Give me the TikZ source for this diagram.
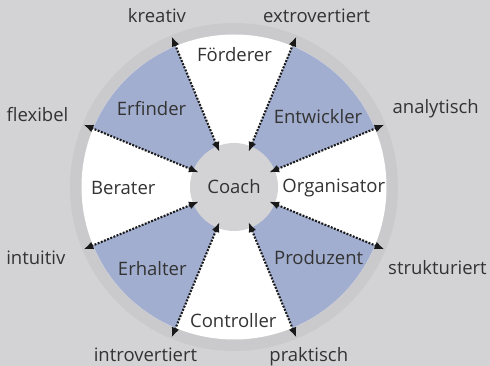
\documentclass[tikz,border=0pt]{standalone}
\usepackage{fontspec}
\setmainfont{Open Sans}
\usetikzlibrary{arrows.meta}
\definecolor{bg}{HTML}{D3D3D5}
\definecolor{ringc}{HTML}{CACACC}
\definecolor{sect}{HTML}{A2AED0}
\definecolor{txt}{HTML}{333333}
\begin{document}
\begin{tikzpicture}[x=1pt,y=1pt,
  lbl/.style={font=\fontsize{18.5}{22}\selectfont, text=txt, anchor=base, inner sep=0pt},
  arr/.style={line width=2.1pt, dash pattern=on 1.9pt off 1.5pt, color=black!90,
    {Latex[length=10pt,width=8pt]}-{Latex[length=10pt,width=8pt]}},
  bluesec/.style={fill=sect}]
\fill[bg] (-234,-179) rectangle (256,187);
\useasboundingbox (-234,-179) rectangle (256,187);
\fill[ringc] (0,0) circle (164);
\fill[white] (0,0) circle (152.5);
\foreach \a in {22.5,112.5,202.5,292.5}
  \fill[bluesec] (0,0) -- (\a:152.5) arc (\a:\a+45:152.5) -- cycle;
\node[circle, fill=bg, minimum size=88pt, inner sep=0pt, font=\fontsize{18.5}{22}\selectfont, text=txt] (coach) at (0,0) {Coach};
\foreach \a [count=\i] in {22.5,67.5,112.5,157.5,202.5,247.5,292.5,337.5} {
  \coordinate (in\i) at (\a:38);
  \coordinate (out\i) at (\a:163);
  \draw[arr] (in\i) -- (out\i);
}
% sector labels
\node[lbl] (foerderer) at (0.5,125.3) {Förderer};
\node[lbl] (erfinder) at (-82.5,71.3) {Erfinder};
\node[lbl] (entwickler) at (84,63.7) {Entwickler};
\node[lbl] (berater) at (-110.7,-8) {Berater};
\node[lbl] (organisator) at (99.8,-5.7) {Organisator};
\node[lbl] (erhalter) at (-81.7,-89) {Erhalter};
\node[lbl] (produzent) at (84.7,-78) {Produzent};
\node[lbl] (controller) at (-0.7,-140.7) {Controller};
% outer labels
\node[lbl] (kreativ) at (-77,164.3) {kreativ};
\node[lbl] (extro) at (82.7,164.3) {extrovertiert};
\node[lbl] (analytisch) at (201.7,73.7) {analytisch};
\node[lbl] (flexibel) at (-196.5,65.3) {flexibel};
\node[lbl] (intuitiv) at (-198.2,-78) {intuitiv};
\node[lbl] (strukturiert) at (203.5,-88) {strukturiert};
\node[lbl] (intro) at (-88.5,-175) {introvertiert};
\node[lbl] (praktisch) at (74.8,-175) {praktisch};
\end{tikzpicture}
\end{document}
